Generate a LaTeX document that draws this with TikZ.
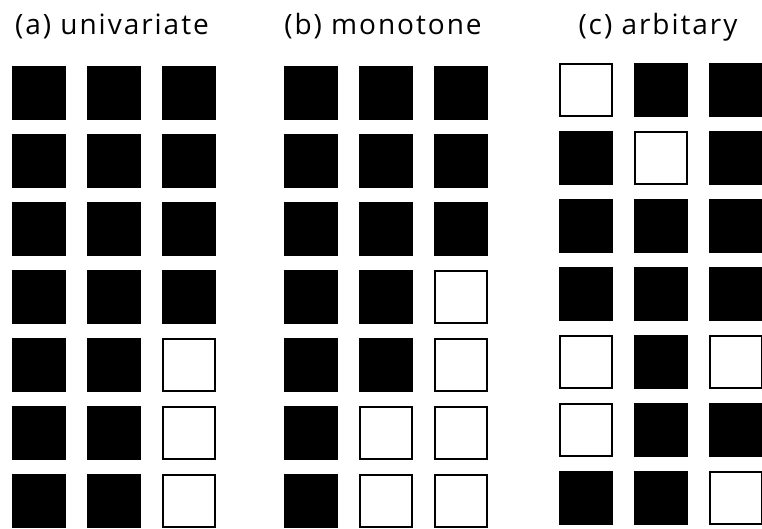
\documentclass[tikz,border=0pt]{standalone}
\usepackage{fontspec}
\setmainfont{Open Sans}
\newfontfamily\titlefont[LetterSpace=7]{Open Sans}
\usetikzlibrary{positioning}

\begin{document}
\begin{tikzpicture}[
  x=1pt, y=-1pt,
  cell/.style={draw, line width=1.5pt, minimum size=52pt, inner sep=0pt},
  on/.style={cell, fill=black},
  off/.style={cell, fill=white},
  title/.style={anchor=base, font=\titlefont\fontsize{28}{32}\selectfont}
]
  \useasboundingbox (0,0) rectangle (762,528);

  % Titles
  \node[title] (ta) at (112,34) {(a) univariate};
  \node[title] (tb) at (383,34) {(b) monotone};
  \node[title] (tc) at (658,34) {(c) arbitary};

  % (a) univariate
  \foreach \row [count=\r] in {{on,on,on},{on,on,on},{on,on,on},{on,on,on},
                               {on,on,off},{on,on,off},{on,on,off}}
    \foreach \st [count=\c] in \row
      \node[\st] (a-\r-\c) at (39+75*\c-75, 93+68*\r-68) {};

  % (b) monotone
  \foreach \row [count=\r] in {{on,on,on},{on,on,on},{on,on,on},{on,on,off},
                               {on,on,off},{on,off,off},{on,off,off}}
    \foreach \st [count=\c] in \row
      \node[\st] (b-\r-\c) at (311+75*\c-75, 93+68*\r-68) {};

  % (c) arbitary
  \foreach \row [count=\r] in {{off,on,on},{on,off,on},{on,on,on},{on,on,on},
                               {off,on,off},{off,on,on},{on,on,off}}
    \foreach \st [count=\c] in \row
      \node[\st] (c-\r-\c) at (586+75*\c-75, 90+68*\r-68) {};

\end{tikzpicture}
\end{document}
